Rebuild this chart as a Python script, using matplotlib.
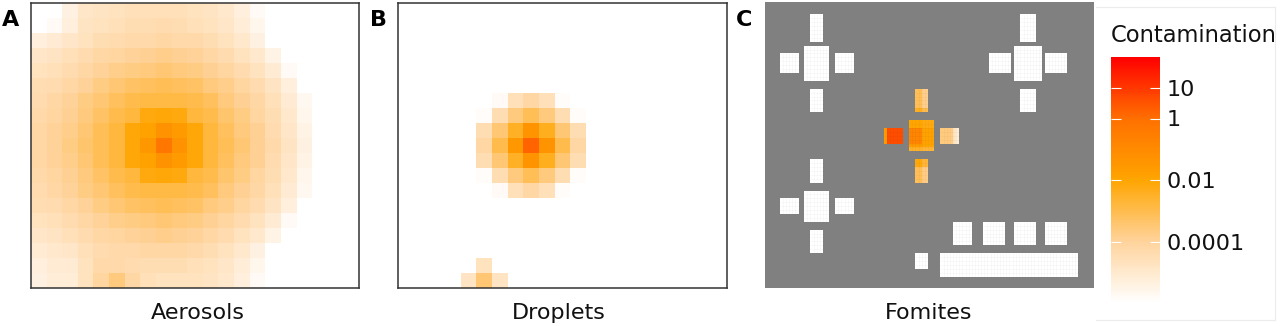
#!/usr/bin/env python3
import numpy as np
import matplotlib
matplotlib.use('Agg')
import matplotlib.pyplot as plt
from matplotlib.colors import LinearSegmentedColormap, LogNorm
from matplotlib.cm import ScalarMappable

## Panel titles and colour bar labels
panel_titles = ['Aerosols', 'Droplets', 'Fomites']
panel_letters = ['A', 'B', 'C']
legend_title = 'Contamination'
legend_ticks = [10, 1, 0.01, 0.0001]
legend_tick_labels = ['10', '1', '0.01', '0.0001']

## log10 contamination per room cell (-6 is blank)
aerosol_log10 = [
    [-6.0, -6.0, -5.4, -4.9, -4.8, -4.7, -4.6, -4.6, -4.6, -4.6, -4.7, -4.8, -5.0, -5.3, -5.8, -6.0, -6.0, -6.0, -6.0, -6.0, -6.0],
    [-6.0, -5.8, -5.3, -4.8, -4.7, -4.6, -4.5, -4.5, -4.4, -4.5, -4.6, -4.7, -4.9, -5.2, -5.6, -6.0, -6.0, -6.0, -6.0, -6.0, -6.0],
    [-5.3, -5.1, -4.9, -4.7, -4.5, -4.4, -4.3, -4.3, -4.2, -4.3, -4.3, -4.5, -4.7, -5.0, -5.4, -6.0, -6.0, -6.0, -6.0, -6.0, -6.0],
    [-4.9, -4.8, -4.6, -4.4, -4.2, -4.1, -4.0, -3.9, -3.8, -3.9, -4.0, -4.2, -4.4, -4.7, -5.0, -5.5, -6.0, -6.0, -6.0, -6.0, -6.0],
    [-4.7, -4.6, -4.4, -4.2, -4.0, -3.8, -3.7, -3.6, -3.5, -3.6, -3.7, -3.9, -4.1, -4.4, -4.7, -5.1, -5.8, -6.0, -6.0, -6.0, -6.0],
    [-4.5, -4.4, -4.2, -4.0, -3.7, -3.5, -3.3, -3.2, -3.1, -3.2, -3.3, -3.6, -3.8, -4.1, -4.4, -4.8, -5.3, -6.0, -6.0, -6.0, -6.0],
    [-4.4, -4.2, -4.0, -3.7, -3.5, -3.2, -3.0, -2.9, -2.9, -2.9, -3.0, -3.2, -3.6, -3.9, -4.2, -4.6, -5.1, -5.7, -6.0, -6.0, -6.0],
    [-4.3, -4.1, -3.9, -3.6, -3.3, -3.0, -2.8, -2.2, -2.1, -2.2, -2.8, -3.0, -3.4, -3.7, -4.1, -4.5, -5.0, -5.6, -6.0, -6.0, -6.0],
    [-4.2, -4.0, -3.8, -3.5, -3.1, -2.8, -2.1, -1.9, -1.3, -1.6, -2.1, -2.8, -3.2, -3.6, -3.9, -4.4, -4.9, -5.5, -6.0, -6.0, -6.0],
    [-4.2, -4.0, -3.7, -3.4, -3.1, -2.8, -2.1, -1.5, -0.3, -1.3, -2.1, -2.8, -3.1, -3.5, -3.9, -4.3, -4.8, -5.4, -6.0, -6.0, -6.0],
    [-4.2, -4.0, -3.8, -3.5, -3.1, -2.8, -2.1, -1.9, -1.3, -1.6, -2.1, -2.8, -3.2, -3.6, -3.9, -4.4, -4.9, -5.5, -6.0, -6.0, -6.0],
    [-4.3, -4.1, -3.9, -3.6, -3.3, -3.0, -2.8, -2.2, -2.1, -2.2, -2.8, -3.0, -3.4, -3.7, -4.1, -4.5, -5.0, -5.6, -6.0, -6.0, -6.0],
    [-4.4, -4.2, -4.0, -3.7, -3.5, -3.2, -3.0, -2.9, -2.9, -2.9, -3.0, -3.2, -3.6, -3.9, -4.2, -4.6, -5.1, -5.7, -6.0, -6.0, -6.0],
    [-4.5, -4.4, -4.2, -4.0, -3.7, -3.5, -3.3, -3.2, -3.1, -3.2, -3.3, -3.6, -3.8, -4.1, -4.4, -4.8, -5.3, -6.0, -6.0, -6.0, -6.0],
    [-4.7, -4.6, -4.4, -4.2, -4.0, -3.8, -3.7, -3.6, -3.5, -3.6, -3.7, -3.9, -4.1, -4.4, -4.7, -5.1, -5.8, -6.0, -6.0, -6.0, -6.0],
    [-4.9, -4.8, -4.6, -4.4, -4.2, -4.1, -4.0, -3.9, -3.8, -3.9, -4.0, -4.2, -4.4, -4.7, -5.0, -5.5, -6.0, -6.0, -6.0, -6.0, -6.0],
    [-5.1, -5.0, -4.9, -4.6, -4.4, -4.3, -4.3, -4.2, -4.2, -4.2, -4.3, -4.5, -4.7, -5.0, -5.4, -6.0, -6.0, -6.0, -6.0, -6.0, -6.0],
    [-5.3, -5.1, -5.1, -4.7, -4.3, -4.3, -4.4, -4.5, -4.5, -4.5, -4.6, -4.7, -4.9, -5.2, -5.6, -6.0, -6.0, -6.0, -6.0, -6.0, -6.0],
    [-5.4, -5.2, -5.2, -4.7, -4.1, -3.6, -4.2, -4.6, -4.7, -4.7, -4.7, -4.8, -5.0, -5.3, -5.8, -6.0, -6.0, -6.0, -6.0, -6.0, -6.0],
]

droplet_log10 = [
    [-6.0] * 21,
    [-6.0] * 21,
    [-6.0] * 21,
    [-6.0] * 21,
    [-6.0] * 21,
    [-6.0] * 21,
    [-6.0, -6.0, -6.0, -6.0, -6.0, -6.0, -5.8, -4.6, -4.2, -4.6, -5.9, -6.0, -6.0, -6.0, -6.0, -6.0, -6.0, -6.0, -6.0, -6.0, -6.0],
    [-6.0, -6.0, -6.0, -6.0, -6.0, -5.9, -4.5, -3.6, -3.1, -3.6, -4.5, -5.9, -6.0, -6.0, -6.0, -6.0, -6.0, -6.0, -6.0, -6.0, -6.0],
    [-6.0, -6.0, -6.0, -6.0, -6.0, -4.5, -3.5, -2.5, -1.4, -2.4, -3.5, -4.5, -6.0, -6.0, -6.0, -6.0, -6.0, -6.0, -6.0, -6.0, -6.0],
    [-6.0, -6.0, -6.0, -6.0, -6.0, -4.2, -3.0, -1.5, 0.2, -1.4, -3.0, -4.2, -6.0, -6.0, -6.0, -6.0, -6.0, -6.0, -6.0, -6.0, -6.0],
    [-6.0, -6.0, -6.0, -6.0, -6.0, -4.5, -3.5, -2.5, -1.4, -2.4, -3.5, -4.5, -6.0, -6.0, -6.0, -6.0, -6.0, -6.0, -6.0, -6.0, -6.0],
    [-6.0, -6.0, -6.0, -6.0, -6.0, -5.9, -4.5, -3.6, -3.1, -3.6, -4.5, -5.9, -6.0, -6.0, -6.0, -6.0, -6.0, -6.0, -6.0, -6.0, -6.0],
    [-6.0, -6.0, -6.0, -6.0, -6.0, -6.0, -5.8, -4.6, -4.2, -4.6, -5.9, -6.0, -6.0, -6.0, -6.0, -6.0, -6.0, -6.0, -6.0, -6.0, -6.0],
    [-6.0] * 21,
    [-6.0] * 21,
    [-6.0] * 21,
    [-6.0] * 21,
    [-6.0, -6.0, -6.0, -6.0, -6.0, -4.7, -6.0, -6.0, -6.0, -6.0, -6.0, -6.0, -6.0, -6.0, -6.0, -6.0, -6.0, -6.0, -6.0, -6.0, -6.0],
    [-6.0, -6.0, -6.0, -6.0, -4.8, -3.5, -4.8, -6.0, -6.0, -6.0, -6.0, -6.0, -6.0, -6.0, -6.0, -6.0, -6.0, -6.0, -6.0, -6.0, -6.0],
]

## Clean surfaces: (first column, first row, columns, rows) on the fine grid
clean_surfaces = [
    (14.5, 3, 4, 7), (12.5, 11, 8, 9), (4.7, 13, 6, 5), (22.4, 13, 6, 5), (14.5, 22, 4, 6),
    (81.5, 3, 5, 7), (79.5, 11, 9, 9), (71.5, 13, 7, 5), (89.5, 13, 7, 5), (81.5, 22, 5, 6),
    (14.5, 40, 4, 6), (12.5, 48, 8, 8), (4.7, 50, 6, 4), (22.4, 50, 6, 4), (14.5, 58, 4, 6),
    (60, 56, 6, 6), (69.7, 56, 7, 6), (79.5, 56, 7, 6), (89.3, 56, 7, 6),
    (48, 64, 4, 4), (56, 64, 44, 6),
]

## Contaminated surfaces around the source, log10 per fine cell
top_surface = (48, 22, 4, 6)
top_log10 = [[-3.1, -3.1, -3.8, -3.8]] * 5 + [[-2.4, -2.4, -3.0, -3.0]]
centre_surface = (46, 30, 8, 8)
centre_log10 = (
    [[-2.0, -2.0, -2.0, -2.0, -2.2, -2.2, -2.2, -2.2]] * 2
    + [[-0.8, -0.8, -0.8, -0.8, -1.9, -1.9, -1.9, -1.9]] * 4
    + [[-1.6, -1.6, -1.6, -1.6, -2.0, -2.0, -2.0, -2.0]]
    + [[-2.5, -2.5, -2.5, -2.5, -2.7, -2.7, -2.7, -2.7]])
left_surface = (38, 32, 6, 4)
left_log10 = [[-1.6, 0.6, 0.6, 0.6, 0.6, 0.6]] * 4
right_surface = (56, 32, 6, 4)
right_log10 = [[-3.6, -3.6, -3.6, -3.7, -4.8, -5.1]] * 4
bottom_surface = (48, 40, 4, 6)
bottom_log10 = (
    [[-2.1, -2.1, -2.7, -2.7]] * 2 + [[-3.1, -3.1, -3.7, -3.7]] * 4)

## Colours: white to orange to red, on a log scale from 1e-6 to 100
cmap = LinearSegmentedColormap.from_list(
    'contamination', [(0, '#ffffff'), (0.25, '#ffd39b'), (0.5, '#ffa500'),
                      (0.75, '#ff7000'), (1, '#ff0000')])
norm = LogNorm(1e-6, 100)

width, height = 1280, 326
def axes_from_pixels(x0, y0, x1, y1):
    return fig.add_axes([x0 / width, 1 - y1 / height,
                         (x1 - x0) / width, (y1 - y0) / height])

def draw_surface(ax, surface, log10_values):
    col, row, n_cols, n_rows = surface
    x = col + np.arange(n_cols + 1)
    y = row + np.arange(n_rows + 1)
    ax.pcolormesh(x, y, 10.0**np.array(log10_values), cmap=cmap, norm=norm,
                  edgecolors='none', antialiased=False)
    # Faint lines between the fine cells
    ax.vlines(x[1:-1], y[0], y[-1], color='black', alpha=0.045, linewidth=0.4)
    ax.hlines(y[1:-1], x[0], x[-1], color='black', alpha=0.045, linewidth=0.4)

plt.rcParams['font.family'] = 'DejaVu Sans'
fig = plt.figure(figsize=(width / 100, height / 100), dpi=100)

## Panels A and B
for box, grid in (((31, 3, 359, 288), aerosol_log10),
                  ((398, 3, 727, 288), droplet_log10)):
    ax = axes_from_pixels(*box)
    ax.imshow(10.0**np.array(grid), cmap=cmap, norm=norm, aspect='auto',
              interpolation='nearest')
    ax.set_xticks([])
    ax.set_yticks([])
    for spine in ax.spines.values():
        spine.set_color('#333333')
        spine.set_linewidth(1.1)

## Panel C
ax_c = axes_from_pixels(765, 2, 1094, 288)
ax_c.set_facecolor('#808080')
for surface in clean_surfaces:
    draw_surface(ax_c, surface, np.full((surface[3], surface[2]), -6.0))
draw_surface(ax_c, top_surface, top_log10)
draw_surface(ax_c, centre_surface, centre_log10)
draw_surface(ax_c, left_surface, left_log10)
draw_surface(ax_c, right_surface, right_log10)
draw_surface(ax_c, bottom_surface, bottom_log10)
ax_c.set_xlim(0, 105)
ax_c.set_ylim(72.9, -0.15)
ax_c.set_xticks([])
ax_c.set_yticks([])
for spine in ax_c.spines.values():
    spine.set_visible(False)

## Titles under the panels and panel letters
for x, title in zip((198, 559, 929), panel_titles):
    fig.text(x / width, 1 - 313 / height, title, fontsize=16,
             ha='center', va='center', color='#111111')
for x, letter in zip((2, 370, 736), panel_letters):
    fig.text(x / width, 1 - 26 / height, letter, fontsize=16,
             fontweight='bold', ha='left', va='baseline', color='black')

## Legend frame
frame = fig.add_axes([1096 / width, 1 - 320 / height, 179 / width, 313 / height])
frame.set_xticks([])
frame.set_yticks([])
frame.patch.set_alpha(0)
for spine in frame.spines.values():
    spine.set_color('#ececec')
    spine.set_linewidth(0.8)
frame.spines['left'].set_visible(False)

## Legend colour bar
cax = axes_from_pixels(1111, 57, 1160, 303)
bar = fig.colorbar(ScalarMappable(norm=norm, cmap=cmap), cax=cax)
bar.outline.set_visible(False)
bar.set_ticks(legend_ticks, labels=legend_tick_labels)
bar.ax.minorticks_off()
bar.ax.tick_params(direction='in', color='white', length=7, width=0.8,
                   left=True, right=True, labelsize=16, pad=5,
                   labelcolor='#111111')
fig.text(1111 / width, 1 - 35 / height, legend_title, fontsize=16.3,
         ha='left', va='center', color='#111111')

fig.savefig('out.png', dpi=100)
